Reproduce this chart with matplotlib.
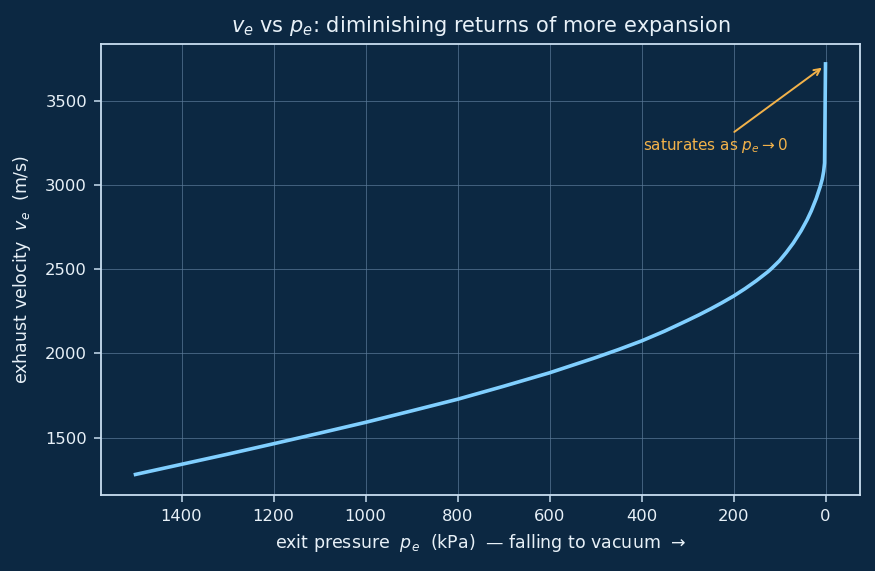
import matplotlib
matplotlib.use("Agg")
import matplotlib.pyplot as plt

# exit pressure (kPa) and exhaust velocity (m/s)
pe_kpa = [1500, 1400, 1300, 1200, 1100, 1000, 900, 800, 700, 600, 500, 450, 400,
          350, 300, 275, 250, 225, 200, 175, 150, 125, 118, 100, 85, 70, 53, 40,
          31, 20, 11.5, 7, 4, 2, 0]
ve_ms = [1282, 1342, 1402, 1464, 1527, 1591, 1659, 1728, 1805, 1885, 1975, 2023, 2074,
         2132, 2196, 2229, 2264, 2301, 2340, 2384, 2432, 2485, 2502, 2550, 2600, 2655, 2728, 2793,
         2845, 2920, 2990, 3035, 3080, 3130, 3718]

BG = "#0c2842"
FG = "#e8f1f8"
SPINE = "#c9def0"
LINE = "#80cfff"
ANN = "#f2b24a"

fig = plt.figure(figsize=(8.75, 5.71), dpi=100, facecolor=BG)
ax = fig.add_axes([101/875, 1-495/571, (860-101)/875, (495-44)/571])
ax.set_facecolor(BG)

ax.plot(pe_kpa, ve_ms, color=LINE, lw=2.6, zorder=3, solid_joinstyle="round")

ax.set_xlim(1575, -75)
ax.set_ylim(1160, 3836)
ax.set_xticks([1400, 1200, 1000, 800, 600, 400, 200, 0])
ax.set_yticks([1500, 2000, 2500, 3000, 3500])

ax.grid(True, color="#5a7a98", lw=0.7, alpha=0.7)
for s in ax.spines.values():
    s.set_color(SPINE)
    s.set_linewidth(1.3)
ax.tick_params(colors=SPINE, labelcolor=FG, labelsize=11.8, length=5, width=1.1, pad=5)

ax.set_title(r"$v_e$ vs $p_e$: diminishing returns of more expansion",
             color=FG, fontsize=15, pad=9)
ax.set_xlabel(r"exit pressure  $p_e$  (kPa)  — falling to vacuum  →", color=FG,
              fontsize=12.5, labelpad=6)
ax.set_ylabel(r"exhaust velocity  $v_e$  (m/s)", color=FG, fontsize=12.5, labelpad=9)

ax.annotate(r"saturates as $p_e \to 0$", xy=(3, 3705), xytext=(397, 3205),
            color=ANN, fontsize=11, ha="left", va="baseline",
            arrowprops=dict(arrowstyle="->", color=ANN, lw=1.4))

fig.savefig("out.png", dpi=100, facecolor=BG)
